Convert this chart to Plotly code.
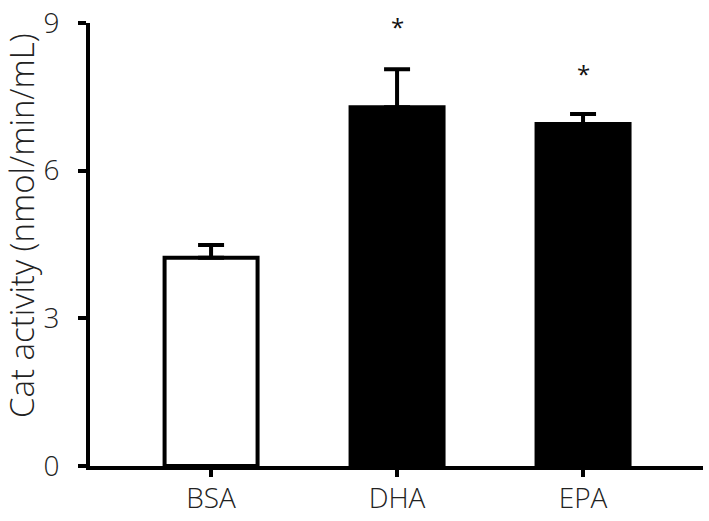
import plotly.graph_objects as go

categories = ["BSA", "DHA", "EPA"]
means = [4.23, 7.29, 6.95]
sem = [0.26, 0.77, 0.20]
fill_colors = ["white", "black", "black"]
star_labels = ["", "*", "*"]
star_y = [None, 9.0, 8.04]
y_ticks = [0, 3, 6, 9]
y_title = "Cat activity (nmol/min/mL)"

TICK_FONT = dict(family="Open Sans", size=28, color="#222222", weight=300)
TITLE_FONT = dict(family="Open Sans", size=33, color="#222222", weight=300)

W, H = 709, 521
ML, MR, MT, MB = 90, 6, 23, 55

fig = go.Figure()
fig.add_trace(go.Bar(
    x=categories,
    y=means,
    width=0.5,
    marker=dict(color=fill_colors, line=dict(color="black", width=4)),
    error_y=dict(type="data", symmetric=False, array=sem,
                 arrayminus=[0] * len(sem), color="black",
                 thickness=4, width=13),
    showlegend=False,
    hoverinfo="skip",
))

for c, s, yv in zip(categories, star_labels, star_y):
    if s:
        fig.add_annotation(x=c, y=yv, text=s, showarrow=False,
                           xref="x", yref="y", yanchor="middle",
                           font=dict(family="Open Sans", size=24, color="#111111", weight=400),
                           yshift=-3)

plot_h = H - MT - MB
plot_w = W - ML - MR
fig.add_annotation(text=y_title, textangle=-90, showarrow=False,
                   xref="paper", yref="paper",
                   x=(22 - ML) / plot_w, y=(H - MB - 226) / plot_h,
                   xanchor="center", yanchor="middle", font=TITLE_FONT)

fig.update_layout(
    width=W, height=H,
    margin=dict(l=ML, r=MR, t=MT, b=MB, pad=0, autoexpand=False),
    paper_bgcolor="white", plot_bgcolor="white",
    font=TICK_FONT,
    bargap=0.5,
)
fig.update_xaxes(
    range=[-0.651, 2.645], automargin=False,
    showline=True, linewidth=4, linecolor="black",
    ticks="outside", ticklen=7, tickwidth=4, tickcolor="black",
    showgrid=False, zeroline=False,
    tickfont=TICK_FONT, ticklabelstandoff=-3,
)
fig.update_yaxes(
    range=[0, 9], automargin=False,
    tickvals=y_ticks, ticktext=[str(t) for t in y_ticks],
    showline=True, linewidth=4, linecolor="black",
    ticks="outside", ticklen=8, tickwidth=4, tickcolor="black",
    showgrid=False, zeroline=False,
    tickfont=TICK_FONT, ticklabelstandoff=13,
)

fig.write_html("out.html",
               config={"displayModeBar": False, "staticPlot": True},
               post_script="document.body.style.margin='0';document.body.style.overflow='hidden';")
